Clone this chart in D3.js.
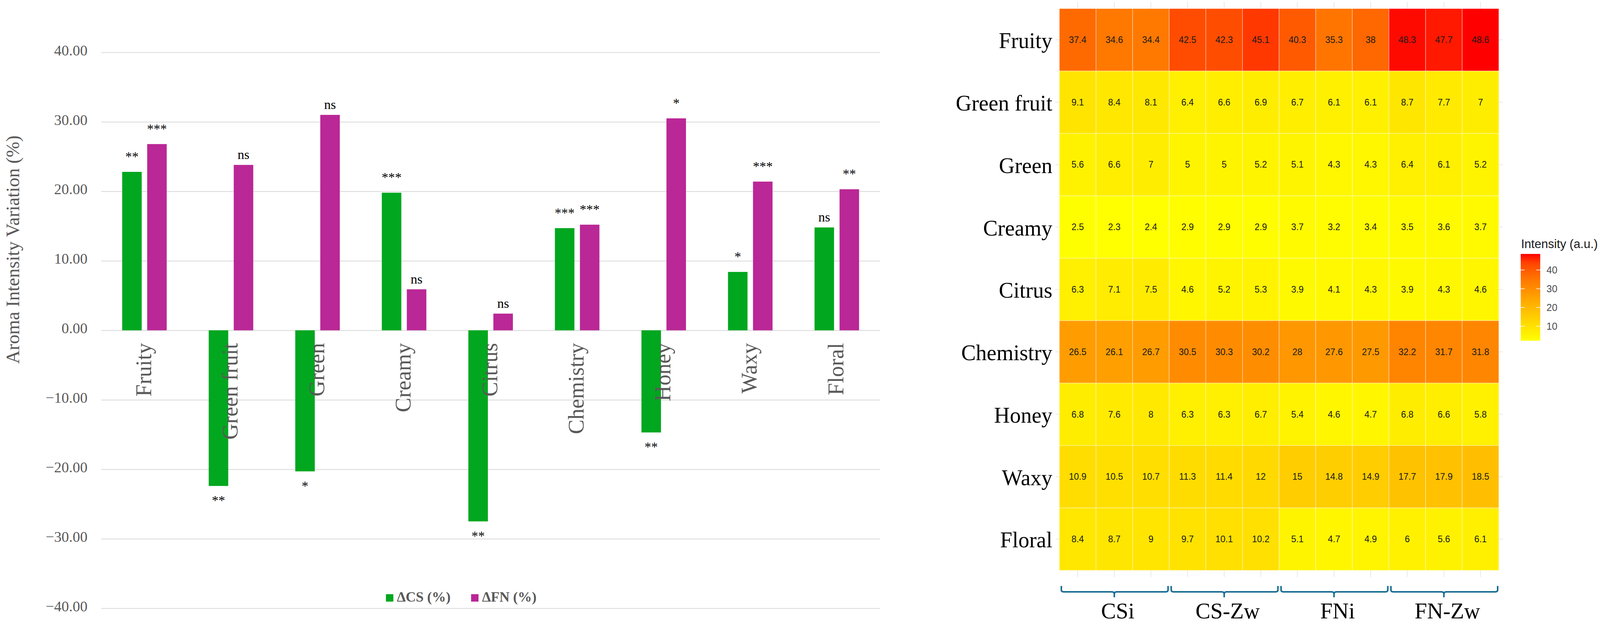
<!DOCTYPE html>
<html>
<head>
<meta charset="utf-8">
<script src="https://cdn.jsdelivr.net/npm/d3@7"></script>
<style>
  body { margin: 0; background: #fff; }
  svg { display: block; }
</style>
</head>
<body>
<div id="chart"></div>
<script>
// ---- bar chart data ----
const categories = ['Fruity', 'Green fruit', 'Green', 'Creamy', 'Citrus', 'Chemistry', 'Honey', 'Waxy', 'Floral']
const deltaCS = [22.8, -22.4, -20.3, 19.8, -27.5, 14.7, -14.7, 8.4, 14.8]
const deltaFN = [26.8, 23.8, 31.0, 5.9, 2.4, 15.2, 30.5, 21.4, 20.3]
const sigCS = ['**', '**', '*', '***', '**', '***', '**', '*', 'ns']
const sigFN = ['***', 'ns', 'ns', 'ns', 'ns', '***', '*', '***', '**']
const yTicks = [-40, -30, -20, -10, 0, 10, 20, 30, 40]
const seriesNames = ['ΔCS (%)', 'ΔFN (%)']

// ---- heatmap data ----
const aromas = ['Fruity', 'Green fruit', 'Green', 'Creamy', 'Citrus', 'Chemistry', 'Honey', 'Waxy', 'Floral']
const groups = ['CSi', 'CS-Zw', 'FNi', 'FN-Zw']
const intensity = [
    [37.4, 34.6, 34.4, 42.5, 42.3, 45.1, 40.3, 35.3, 38, 48.3, 47.7, 48.6],
    [9.1, 8.4, 8.1, 6.4, 6.6, 6.9, 6.7, 6.1, 6.1, 8.7, 7.7, 7],
    [5.6, 6.6, 7, 5, 5, 5.2, 5.1, 4.3, 4.3, 6.4, 6.1, 5.2],
    [2.5, 2.3, 2.4, 2.9, 2.9, 2.9, 3.7, 3.2, 3.4, 3.5, 3.6, 3.7],
    [6.3, 7.1, 7.5, 4.6, 5.2, 5.3, 3.9, 4.1, 4.3, 3.9, 4.3, 4.6],
    [26.5, 26.1, 26.7, 30.5, 30.3, 30.2, 28, 27.6, 27.5, 32.2, 31.7, 31.8],
    [6.8, 7.6, 8, 6.3, 6.3, 6.7, 5.4, 4.6, 4.7, 6.8, 6.6, 5.8],
    [10.9, 10.5, 10.7, 11.3, 11.4, 12, 15, 14.8, 14.9, 17.7, 17.9, 18.5],
    [8.4, 8.7, 9, 9.7, 10.1, 10.2, 5.1, 4.7, 4.9, 6, 5.6, 6.1]
]
const legendTicks = [10, 20, 30, 40]

const W = 4103, H = 1605
const SERIF = '"Liberation Serif", "Times New Roman", serif'
const SANS = '"Liberation Sans", Arial, sans-serif'
const GREEN = '#00a71f', MAGENTA = '#ba2796'

const svg = d3.select('#chart').append('svg').attr('width', W).attr('height', H)
svg.append('rect').attr('width', W).attr('height', H).attr('fill', '#fff')

// ================= bar chart =================
const x = d3.scaleBand().domain(categories).range([259, 2253])
const xs = d3.scaleBand().domain(['CS', 'FN']).range([-57, 57]).paddingInner(0.22)
const y = d3.scaleLinear().domain([-40, 40]).range([1557, 134])

const yAxis = svg.append('g')
    .attr('transform', 'translate(259,0)')
    .call(d3.axisLeft(y).tickValues(yTicks).tickSize(-(2253 - 259)).tickPadding(35).tickFormat(d3.format('.2f')))
yAxis.select('.domain').remove()
yAxis.selectAll('.tick line').attr('stroke', '#d9d9d9').attr('stroke-width', 2)
yAxis.selectAll('.tick text')
    .attr('fill', '#595959').attr('font-family', SERIF).attr('font-size', '38px')
    .attr('transform', 'translate(0,-5)')

svg.append('text')
    .attr('transform', 'translate(49,639) rotate(-90)')
    .attr('text-anchor', 'middle')
    .attr('font-family', SERIF).attr('font-size', '48px').attr('fill', '#595959')
    .text('Aroma Intensity Variation (%)')

const rows = categories.map((c, i) => ({ c, cs: deltaCS[i], fn: deltaFN[i], sCS: sigCS[i], sFN: sigFN[i] }))
const bars = []
rows.forEach(r => {
    bars.push({ c: r.c, key: 'CS', v: r.cs, sig: r.sCS, color: GREEN })
    bars.push({ c: r.c, key: 'FN', v: r.fn, sig: r.sFN, color: MAGENTA })
})

svg.selectAll('.bar')
    .data(bars).enter()
    .append('rect')
    .attr('x', d => x(d.c) + x.bandwidth() / 2 + xs(d.key))
    .attr('y', d => y(Math.max(0, d.v)))
    .attr('width', xs.bandwidth())
    .attr('height', d => Math.abs(y(d.v) - y(0)))
    .attr('fill', d => d.color)

svg.selectAll('.sig')
    .data(bars).enter()
    .append('text')
    .attr('x', d => x(d.c) + x.bandwidth() / 2 + xs(d.key) + xs.bandwidth() / 2)
    .attr('y', d => d.v >= 0 ? y(d.v) - (d.sig === 'ns' ? 15 : 28) : y(d.v) + 48)
    .attr('text-anchor', 'middle')
    .attr('font-family', SERIF).attr('font-size', '34px').attr('fill', '#000')
    .text(d => d.sig)

// category labels (drawn over the bars)
svg.selectAll('.cat')
    .data(categories).enter()
    .append('text')
    .attr('transform', d => `translate(${x(d) + x.bandwidth() / 2},878) rotate(-90)`)
    .attr('text-anchor', 'end')
    .attr('dy', '0.3em')
    .attr('font-family', SERIF).attr('font-size', '56px').attr('fill', '#595959')
    .text(d => d)

// legend
const legend = svg.append('g')
const legendX = [988, 1206]
seriesNames.forEach((name, i) => {
    legend.append('rect').attr('x', legendX[i]).attr('y', 1521).attr('width', 19).attr('height', 19)
        .attr('fill', i === 0 ? GREEN : MAGENTA)
    legend.append('text').attr('x', legendX[i] + 28).attr('y', 1540)
        .attr('font-family', SERIF).attr('font-size', '36px').attr('font-weight', 'bold').attr('fill', '#595959')
        .text(name)
})

// ================= heatmap =================
const columns = []
groups.forEach(g => [1, 2, 3].forEach(k => columns.push(`${g}_${k}`)))

const hx = d3.scaleBand().domain(columns).range([2712, 3837])
const hy = d3.scaleBand().domain(aromas).range([22, 1460])
const allVals = intensity.flat()
const color = d3.scaleSequential(d3.interpolateLab('#ffff00', '#ff0000')).domain(d3.extent(allVals))

// panel grid (visible only outside the tiles)
const grid = svg.append('g').attr('stroke', '#e8e8e8').attr('stroke-width', 2)
columns.forEach(c => grid.append('line')
    .attr('x1', hx(c) + hx.bandwidth() / 2).attr('x2', hx(c) + hx.bandwidth() / 2)
    .attr('y1', 5).attr('y2', 1477))
aromas.forEach(a => grid.append('line')
    .attr('y1', hy(a) + hy.bandwidth() / 2).attr('y2', hy(a) + hy.bandwidth() / 2)
    .attr('x1', 2702).attr('x2', 3847))

const cells = []
aromas.forEach((a, i) => columns.forEach((c, j) => cells.push({ a, c, v: intensity[i][j] })))

svg.selectAll('.tile')
    .data(cells).enter()
    .append('rect')
    .attr('x', d => hx(d.c)).attr('y', d => hy(d.a))
    .attr('width', hx.bandwidth()).attr('height', hy.bandwidth())
    .attr('fill', d => color(d.v))
    .attr('stroke', '#fff').attr('stroke-opacity', 0.45).attr('stroke-width', 1.5)

svg.selectAll('.cell-label')
    .data(cells).enter()
    .append('text')
    .attr('x', d => hx(d.c) + hx.bandwidth() / 2)
    .attr('y', d => hy(d.a) + hy.bandwidth() / 2)
    .attr('dy', '0.35em')
    .attr('text-anchor', 'middle')
    .attr('font-family', SANS).attr('font-size', '23px').attr('fill', '#1a1a1a')
    .text(d => d.v)

svg.selectAll('.row-label')
    .data(aromas).enter()
    .append('text')
    .attr('x', 2694)
    .attr('y', d => hy(d) + hy.bandwidth() / 2)
    .attr('dy', '0.38em')
    .attr('text-anchor', 'end')
    .attr('font-family', SERIF).attr('font-size', '56px').attr('fill', '#000')
    .text(d => d)

// group brackets
groups.forEach(g => {
    const a = hx(`${g}_1`) + 5
    const b = hx(`${g}_3`) + hx.bandwidth() - 3
    const c = (hx(`${g}_1`) + hx(`${g}_3`) + hx.bandwidth()) / 2
    const top = 1500, mid = 1515, bot = 1529
    svg.append('path')
        .attr('d', `M${a},${top} V${mid - 5} Q${a},${mid} ${a + 6},${mid} H${c - 6} Q${c},${mid} ${c},${mid + 6} V${bot}` +
            ` M${c},${mid + 6} Q${c},${mid} ${c + 6},${mid} H${b - 6} Q${b},${mid} ${b},${mid - 5} V${top}`)
        .attr('fill', 'none').attr('stroke', '#1a6e93').attr('stroke-width', 4)
    svg.append('text')
        .attr('x', c + 9).attr('y', 1583)
        .attr('text-anchor', 'middle')
        .attr('font-family', SERIF).attr('font-size', '57px').attr('fill', '#000')
        .text(g)
})

// colour legend
const ly = d3.scaleLinear().domain(d3.extent(allVals)).range([872, 650])
const defs = svg.append('defs')
const grad = defs.append('linearGradient').attr('id', 'intensity-grad')
    .attr('x1', 0).attr('y1', 1).attr('x2', 0).attr('y2', 0)
d3.range(0, 1.0001, 0.1).forEach(t => {
    grad.append('stop').attr('offset', t)
        .attr('stop-color', color(ly.domain()[0] + t * (ly.domain()[1] - ly.domain()[0])))
})
svg.append('text').attr('x', 3894).attr('y', 635)
    .attr('font-family', SANS).attr('font-size', '31px').attr('fill', '#1a1a1a')
    .text('Intensity (a.u.)')
svg.append('rect').attr('x', 3893).attr('y', ly.range()[1]).attr('width', 50)
    .attr('height', ly.range()[0] - ly.range()[1]).attr('fill', 'url(#intensity-grad)')
legendTicks.forEach(t => {
    svg.append('line').attr('x1', 3893).attr('x2', 3903).attr('y1', ly(t)).attr('y2', ly(t))
        .attr('stroke', '#fff').attr('stroke-width', 1.5)
    svg.append('line').attr('x1', 3933).attr('x2', 3943).attr('y1', ly(t)).attr('y2', ly(t))
        .attr('stroke', '#fff').attr('stroke-width', 1.5)
    svg.append('text').attr('x', 3959).attr('y', ly(t)).attr('dy', '0.35em')
        .attr('font-family', SANS).attr('font-size', '25px').attr('fill', '#4d4d4d')
        .text(t)
})
</script>
</body>
</html>
